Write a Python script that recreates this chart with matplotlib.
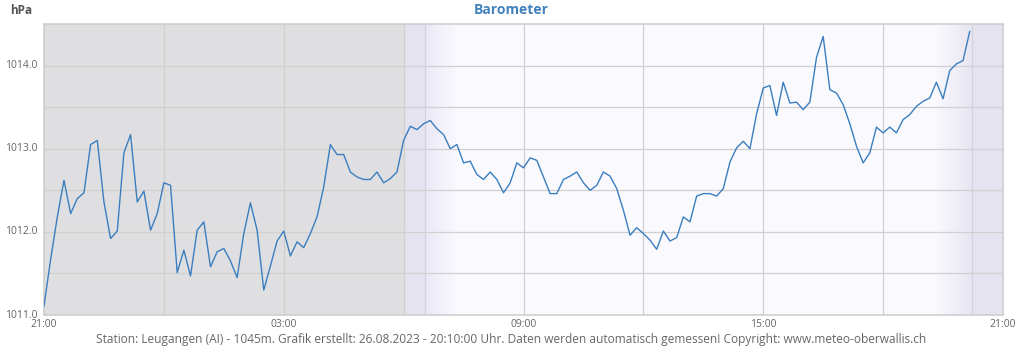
import numpy as np
import matplotlib
matplotlib.use("Agg")
import matplotlib.pyplot as plt
from matplotlib.colors import LinearSegmentedColormap

# ---- data: pressure every 10 minutes starting 21:00 ----
pressure = [
    1011.11, 1011.67, 1012.18, 1012.62, 1012.22, 1012.40, 1012.47, 1013.05, 1013.10, 1012.36,
    1011.92, 1012.01, 1012.95, 1013.17, 1012.36, 1012.49, 1012.02, 1012.22, 1012.59, 1012.56,
    1011.51, 1011.78, 1011.47, 1012.02, 1012.12, 1011.58, 1011.76, 1011.80, 1011.65, 1011.45,
    1011.98, 1012.35, 1012.02, 1011.30, 1011.59, 1011.89, 1012.01, 1011.71, 1011.88, 1011.81,
    1011.98, 1012.18, 1012.54, 1013.05, 1012.93, 1012.93, 1012.72, 1012.66, 1012.63, 1012.63,
    1012.72, 1012.59, 1012.64, 1012.72, 1013.10, 1013.27, 1013.23, 1013.30, 1013.34, 1013.24,
    1013.17, 1013.00, 1013.05, 1012.83, 1012.85, 1012.69, 1012.63, 1012.72, 1012.63, 1012.47,
    1012.59, 1012.83, 1012.77, 1012.89, 1012.86, 1012.66, 1012.46, 1012.46, 1012.63, 1012.67,
    1012.72, 1012.59, 1012.50, 1012.56, 1012.72, 1012.67, 1012.52, 1012.26, 1011.96, 1012.05,
    1011.98, 1011.90, 1011.79, 1012.01, 1011.89, 1011.93, 1012.18, 1012.12, 1012.43, 1012.46,
    1012.46, 1012.43, 1012.52, 1012.84, 1013.01, 1013.09, 1013.00, 1013.42, 1013.73, 1013.76,
    1013.40, 1013.80, 1013.55, 1013.56, 1013.47, 1013.56, 1014.10, 1014.35, 1013.71, 1013.67,
    1013.53, 1013.30, 1013.03, 1012.83, 1012.95, 1013.26, 1013.19, 1013.26, 1013.19, 1013.35,
    1013.41, 1013.51, 1013.57, 1013.61, 1013.80, 1013.60, 1013.94, 1014.02, 1014.06, 1014.41,
]
step_minutes = 10
hours = [i * step_minutes / 60 for i in range(len(pressure))]  # hours since 21:00

x_tick_pos = [0, 6, 12, 18, 24]
x_tick_labels = ["21:00", "03:00", "09:00", "15:00", "21:00"]
y_ticks = [1011.0, 1012.0, 1013.0, 1014.0]
y_tick_labels = ["1011.0", "1012.0", "1013.0", "1014.0"]

title = "Barometer"
unit = "hPa"
footer = ("Station: Leugangen (AI) - 1045m. Grafik erstellt: 26.08.2023 - 20:10:00 Uhr. "
          "Daten werden automatisch gemessen! Copyright: www.meteo-oberwallis.ch")

# ---- styling ----
plt.rcParams['font.family'] = ['Open Sans', 'DejaVu Sans']
fig = plt.figure(figsize=(10.24, 3.5), dpi=100)
ax = fig.add_axes([44/1024, 1 - 315/350, (1003 - 44)/1024, (315 - 24)/350])

ymin, ymax = 1011.0, 1014.5
ax.set_xlim(0, 24)
ax.set_ylim(ymin, ymax)

plot_bg = "#faf9fe"
night = "#dfdfe1"
dusk = "#e5e3ef"
ax.set_facecolor(plot_bg)

# night / twilight shading
ax.axvspan(0, 9.0, color=night, zorder=0, lw=0)
ax.axvspan(9.0, 9.53, color=dusk, zorder=0, lw=0)
ax.axvspan(23.22, 24, color=dusk, zorder=0, lw=0)
grad_in = LinearSegmentedColormap.from_list("gi", ["#ebe8f6", plot_bg])
grad_out = LinearSegmentedColormap.from_list("go", [plot_bg, "#e8e5f2"])
g = np.linspace(0, 1, 256).reshape(1, -1)
ax.imshow(g, cmap=grad_in, extent=[9.53, 10.35, ymin, ymax], aspect='auto', zorder=0.5)
ax.imshow(g, cmap=grad_out, extent=[22.3, 23.22, ymin, ymax], aspect='auto', zorder=0.5)
ax.axvline(9.53, color="#d4d2dc", lw=0.9, zorder=1)
ax.axvline(23.22, color="#d4d2dc", lw=0.9, zorder=1)

# grid
for yv in np.arange(1011.5, 1014.5, 0.5):
    ax.axhline(yv, color="#d0d0d0", lw=0.9, zorder=1)
for xv in range(3, 24, 3):
    ax.axvline(xv, color="#d0d0d0", lw=0.9, zorder=1)

ax.plot(hours, pressure, color="#3a7ebf", lw=1.0, zorder=3)

for s in ax.spines.values():
    s.set_color("#cccccc")
    s.set_linewidth(1.1)

ax.set_xticks(x_tick_pos)
ax.set_xticklabels(x_tick_labels)
ax.set_yticks(y_ticks)
ax.set_yticklabels(y_tick_labels)
ax.tick_params(axis='both', length=0, colors="#666666", labelsize=7.5)
ax.tick_params(axis='x', pad=3)
ax.tick_params(axis='y', pad=5)
for lbl in ax.get_yticklabels():
    lbl.set_verticalalignment('center')

fig.text(511/1024, 1 - 10/350, title, ha='center', va='center', fontsize=10,
         fontweight='bold', color="#4281bd")
fig.text(10/1024, 1 - 10/350, unit, ha='left', va='center', fontsize=8.5,
         fontweight='bold', color="#555555")
fig.text(511/1024, 1 - 339/350, footer, ha='center', va='center', fontsize=8.6,
         color="#666666")

fig.savefig("out.png", dpi=100)
